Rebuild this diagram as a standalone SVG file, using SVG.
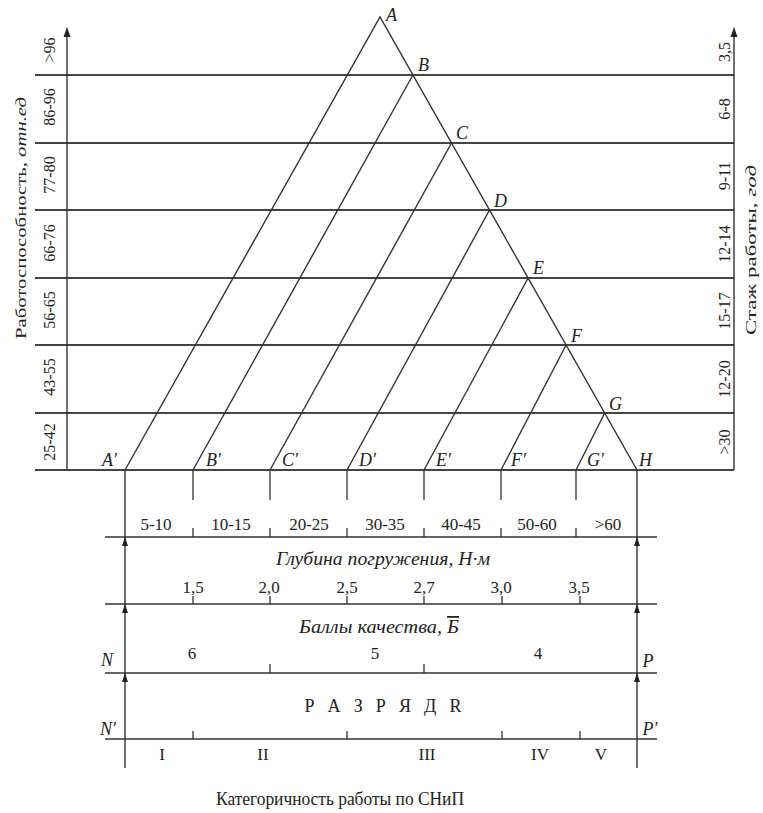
<svg xmlns="http://www.w3.org/2000/svg" width="763" height="813" viewBox="0 0 763 813">
<style>
.ln{stroke:#333;stroke-width:1.4;fill:none}
.hl{stroke:#444;stroke-width:1.8;fill:none}
.tk{stroke:#333;stroke-width:1.3}
.t{font-family:"Liberation Serif","Times New Roman",serif;font-size:17px;fill:#222}
.r{font-size:16px}
.ttl{font-size:15px}
.it{font-family:"Liberation Serif","Times New Roman",serif;font-style:italic;font-size:18px;fill:#222}
.mid{text-anchor:middle}
.ah{fill:#222}
</style>
<rect width="763" height="813" fill="#fff"/>
<g id="connectors">
<line class="hl" x1="35" y1="75" x2="734" y2="75"/>
<line class="hl" x1="35" y1="143" x2="734" y2="143"/>
<line class="hl" x1="35" y1="210" x2="734" y2="210"/>
<line class="hl" x1="35" y1="278" x2="734" y2="278"/>
<line class="hl" x1="35" y1="345" x2="734" y2="345"/>
<line class="hl" x1="35" y1="413" x2="734" y2="413"/>
<line class="hl" x1="35" y1="470" x2="734" y2="470"/>
<line class="ln" x1="67" y1="470" x2="67" y2="36"/>
<path class="ah" d="M67,27 L70.5,37 L63.5,37 Z"/>
<line class="ln" x1="734" y1="470" x2="734" y2="36"/>
<path class="ah" d="M734,27 L737.5,37 L730.5,37 Z"/>
<polyline class="ln" points="125,470 380,17 637,470"/>
<line class="ln" x1="412.9" y1="75" x2="193" y2="470"/>
<line class="ln" x1="451.5" y1="143" x2="270" y2="470"/>
<line class="ln" x1="489.5" y1="210" x2="347" y2="470"/>
<line class="ln" x1="528.1" y1="278" x2="424" y2="470"/>
<line class="ln" x1="566.1" y1="345" x2="501" y2="470"/>
<line class="ln" x1="604.7" y1="413" x2="576" y2="470"/>
<line class="ln" x1="125" y1="470" x2="125" y2="768"/>
<line class="ln" x1="637" y1="470" x2="637" y2="768"/>
<path class="ah" d="M125,537 L128,546 L122,546 Z M125,604 L128,613 L122,613 Z M125,673 L128,682 L122,682 Z"/>
<path class="ah" d="M637,537 L640,546 L634,546 Z M637,604 L640,613 L634,613 Z M637,673 L640,682 L634,682 Z"/>
<path class="tk" d="M193,470V500 M270,470V500 M347,470V500 M424,470V500 M501,470V500 M576,470V500"/>
<line class="ln" x1="105" y1="537" x2="657" y2="537"/>
<line class="ln" x1="105" y1="604" x2="657" y2="604"/>
<line class="ln" x1="105" y1="673" x2="657" y2="673"/>
<line class="ln" x1="105" y1="739" x2="657" y2="739"/>
<path class="tk" d="M193,528V537 M270,528V537 M347,528V537 M424,528V537 M501,528V537 M576,528V537"/>
<path class="tk" d="M193,596V604 M270,596V604 M347,596V604 M424,596V604 M502,596V604 M580,596V604"/>
<path class="tk" d="M270,664V673 M424,664V673"/>
<path class="tk" d="M193,731V739 M347,731V739 M502,731V739 M580,731V739"/>
</g>
<g id="left-axis-labels" class="t r">
<text class="mid" transform="translate(55,50) rotate(-90)">&gt;96</text>
<text class="mid" transform="translate(55,107) rotate(-90)">86-96</text>
<text class="mid" transform="translate(55,175) rotate(-90)">77-80</text>
<text class="mid" transform="translate(55,243) rotate(-90)">66-76</text>
<text class="mid" transform="translate(55,310) rotate(-90)">56-65</text>
<text class="mid" transform="translate(55,377) rotate(-90)">43-55</text>
<text class="mid" transform="translate(55,442) rotate(-90)">25-42</text>
</g>
<g id="left-title">
<text class="t ttl mid" transform="translate(26,218) rotate(-90)" textLength="242" lengthAdjust="spacingAndGlyphs">Работоспособность, <tspan font-style="italic">отн.ед</tspan></text>
</g>
<g id="right-axis-labels" class="t r">
<text class="mid" transform="translate(730,52) rotate(-90)">3,5</text>
<text class="mid" transform="translate(730,109) rotate(-90)">6-8</text>
<text class="mid" transform="translate(730,176) rotate(-90)">9-11</text>
<text class="mid" transform="translate(730,244) rotate(-90)">12-14</text>
<text class="mid" transform="translate(730,311) rotate(-90)">15-17</text>
<text class="mid" transform="translate(730,379) rotate(-90)">12-20</text>
<text class="mid" transform="translate(730,442) rotate(-90)">&gt;30</text>
</g>
<g id="right-title">
<text class="t ttl mid" transform="translate(756,250) rotate(-90)" textLength="170" lengthAdjust="spacingAndGlyphs">Стаж работы, <tspan font-style="italic">год</tspan></text>
</g>
<g id="vertex-labels" class="it">
<text x="386" y="21">A</text>
<text x="418" y="71">B</text>
<text x="456" y="139">C</text>
<text x="494" y="207">D</text>
<text x="533" y="274">E</text>
<text x="571" y="342">F</text>
<text x="609" y="410">G</text>
<text x="639" y="466">H</text>
<text x="102" y="466">A′</text>
<text x="206" y="466">B′</text>
<text x="282" y="466">C′</text>
<text x="359" y="466">D′</text>
<text x="436" y="466">E′</text>
<text x="511" y="466">F′</text>
<text x="587" y="466">G′</text>
</g>
<g id="depth-ranges" class="t mid">
<text x="156" y="530">5-10</text>
<text x="231" y="530">10-15</text>
<text x="309" y="530">20-25</text>
<text x="385" y="530">30-35</text>
<text x="461" y="530">40-45</text>
<text x="537" y="530">50-60</text>
<text x="608" y="530">&gt;60</text>
</g>
<g id="depth-scale">
<text class="it mid" x="383" y="565" style="font-size:18px" textLength="214" lengthAdjust="spacingAndGlyphs">Глубина погружения, Н·м</text>
<g class="t mid">
<text x="193" y="593">1,5</text>
<text x="269" y="593">2,0</text>
<text x="347" y="593">2,5</text>
<text x="424" y="593">2,7</text>
<text x="501" y="593">3,0</text>
<text x="579" y="593">3,5</text>
</g>
</g>
<g id="quality-scale">
<text class="it mid" x="379" y="633" style="font-size:18px" textLength="160" lengthAdjust="spacingAndGlyphs">Баллы качества, <tspan style="text-decoration:overline">Б</tspan></text>
<g class="t mid">
<text x="192" y="659">6</text>
<text x="375" y="659">5</text>
<text x="538" y="659">4</text>
</g>
<text class="it mid" x="107" y="666">N</text>
<text class="it mid" x="648" y="667">P</text>
</g>
<g id="grade-scale">
<text class="t mid" x="383" y="712" style="font-size:18px" textLength="157" lengthAdjust="spacing">Р А З Р Я Д  R</text>
<text class="it mid" x="108" y="735">N′</text>
<text class="it mid" x="650" y="735">P′</text>
<g class="t mid">
<text x="162" y="760">I</text>
<text x="263" y="760">II</text>
<text x="427" y="760">III</text>
<text x="540" y="760">IV</text>
<text x="601" y="760">V</text>
</g>
</g>
<g id="bottom-title">
<text class="t mid" x="340" y="805" style="font-size:18px" textLength="248" lengthAdjust="spacingAndGlyphs">Категоричность работы по СНиП</text>
</g>
</svg>
